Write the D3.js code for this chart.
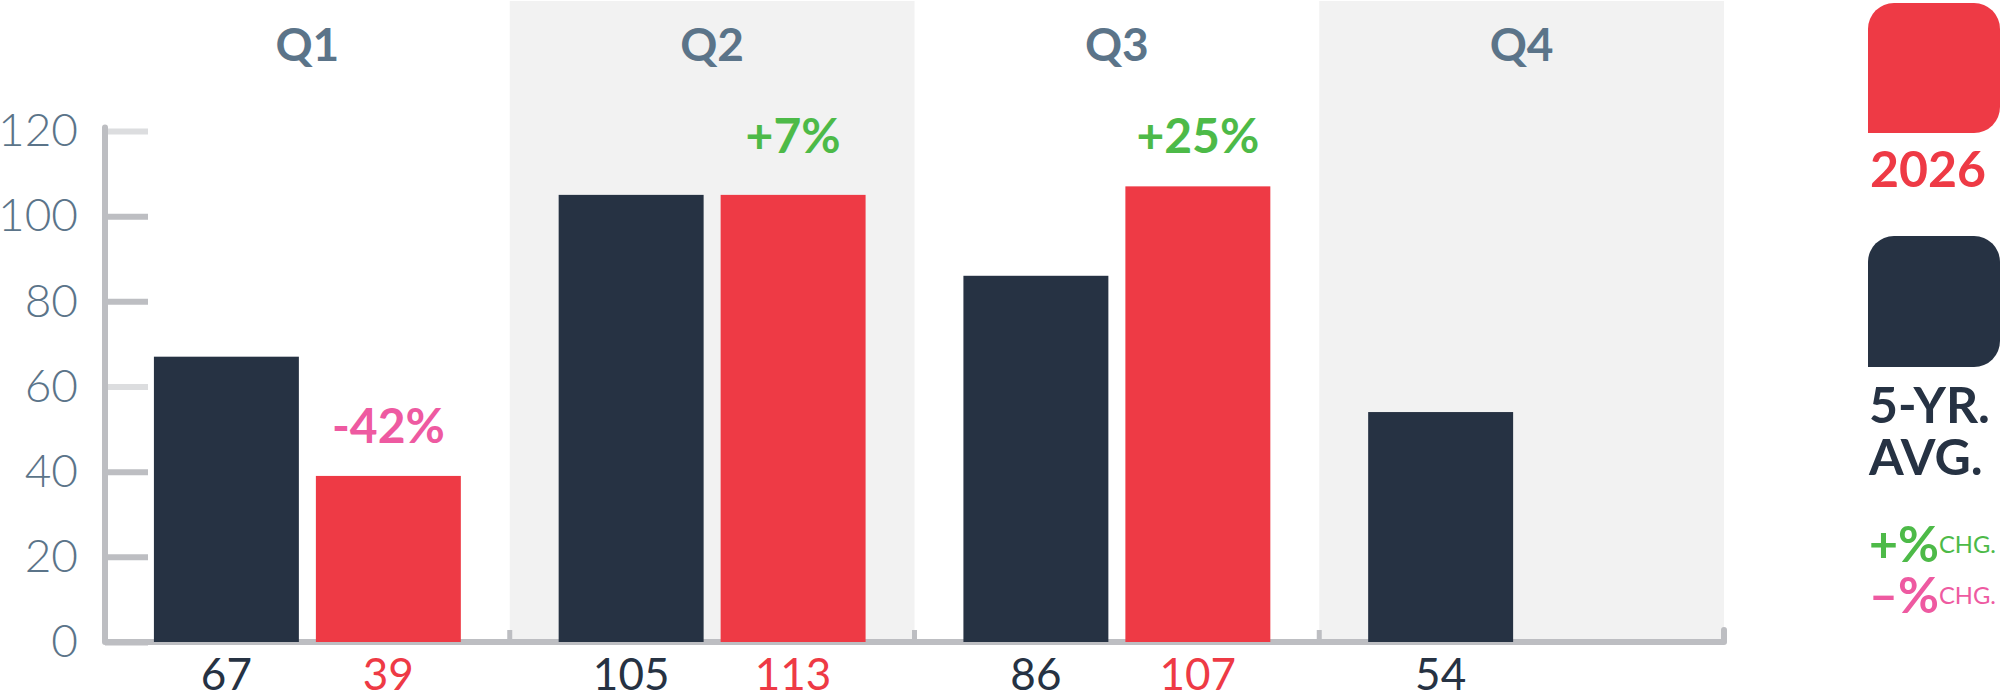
<!DOCTYPE html>
<html>
<head>
<meta charset="utf-8">
<script src="https://cdn.jsdelivr.net/npm/d3@7"></script>
<style>
  html, body { margin: 0; padding: 0; background: #fff; }
  svg { display: block; font-family: Lato, "Open Sans", sans-serif; }
</style>
</head>
<body>
<div id="chart"></div>
<script>
// values
var quarters = ['Q1', 'Q2', 'Q3', 'Q4'];
var series = ['avg', 'cur'];
var avgValues = [67, 105, 86, 54];
var curValues = [39, 105, 107, null];
var avgLabels = ['67', '105', '86', '54'];
var curLabels = ['39', '113', '107', ''];
var changeLabels = ['-42%', '+7%', '+25%', ''];
var yTicks = [0, 20, 40, 60, 80, 100, 120];

var navy = '#263243', red = '#ee3a45', slate = '#5b7489';
var green = '#4dba48', pink = '#ee5aa1', axisGray = '#bdbec2', lightGray = '#dcdddf';

var W = 2000, H = 693;
var svg = d3.select('#chart').append('svg')
  .attr('width', W)
  .attr('height', H);

var x = d3.scaleBand().domain(quarters).range([105, 1724]);
var xi = d3.scaleBand().domain(series).range([0, x.bandwidth()])
  .paddingInner(0.105).paddingOuter(0.302);
var y = d3.scaleLinear().domain([0, 120]).range([642, 131]);

// shaded quarter columns
svg.append('g').selectAll('rect.band')
  .data(quarters.filter(function(d, i) { return i % 2 === 1; }))
  .enter().append('rect')
  .attr('class', 'band')
  .attr('x', function(d) { return x(d); })
  .attr('y', 1)
  .attr('width', x.bandwidth())
  .attr('height', y(0) - 1)
  .attr('fill', '#f2f2f2');

// quarter titles
svg.append('g').selectAll('text.q')
  .data(quarters)
  .enter().append('text')
  .attr('x', function(d) { return x(d) + x.bandwidth() / 2; })
  .attr('y', 61)
  .attr('text-anchor', 'middle')
  .attr('font-size', 46)
  .attr('font-weight', 700)
  .attr('fill', slate)
  .text(function(d) { return d; });

// y axis ticks + labels
var yAxis = d3.axisLeft(y).tickValues(yTicks).tickSize(43).tickPadding(27);
var ya = svg.append('g').attr('transform', 'translate(148,0)').call(yAxis);
ya.select('.domain').remove();
ya.selectAll('.tick line')
  .attr('stroke', function(d) { return (d === 60 || d === 120) ? lightGray : axisGray; })
  .attr('stroke-width', 6);
ya.selectAll('.tick text')
  .attr('font-family', 'Lato, sans-serif')
  .attr('font-size', 46)
  .attr('font-weight', 300)
  .attr('fill', slate);

// axis frame
var x0 = x.range()[0], x1 = x.range()[1];
svg.append('path')
  .attr('d', 'M' + x0 + ',' + y(120.8) + 'V' + y(0) + 'H' + x1 + 'V' + (y(0) - 12))
  .attr('fill', 'none')
  .attr('stroke', axisGray)
  .attr('stroke-width', 6)
  .attr('stroke-linecap', 'round')
  .attr('stroke-linejoin', 'round');
svg.append('g').selectAll('line.sep')
  .data(quarters.slice(1))
  .enter().append('line')
  .attr('x1', function(d) { return x(d); })
  .attr('x2', function(d) { return x(d); })
  .attr('y1', y(0))
  .attr('y2', y(0) - 12)
  .attr('stroke', axisGray)
  .attr('stroke-width', 5);

// bars
var barLayer = svg.append('g');
barLayer.selectAll('rect.avg')
  .data(avgValues)
  .enter().append('rect')
  .attr('class', 'avg')
  .attr('x', function(d, i) { return x(quarters[i]) + xi('avg'); })
  .attr('y', function(d) { return y(d); })
  .attr('width', xi.bandwidth())
  .attr('height', function(d) { return y(0) - y(d); })
  .attr('fill', navy);
barLayer.selectAll('rect.cur')
  .data(curValues.filter(function(d) { return d !== null; }))
  .enter().append('rect')
  .attr('class', 'cur')
  .attr('x', function(d, i) { return x(quarters[i]) + xi('cur'); })
  .attr('y', function(d) { return y(d); })
  .attr('width', xi.bandwidth())
  .attr('height', function(d) { return y(0) - y(d); })
  .attr('fill', red);

// value labels under the axis
var labelLayer = svg.append('g')
  .attr('font-size', 44)
  .attr('font-weight', 400)
  .attr('text-anchor', 'middle');
labelLayer.selectAll('text.avgl')
  .data(avgLabels)
  .enter().append('text')
  .attr('x', function(d, i) { return x(quarters[i]) + xi('avg') + xi.bandwidth() / 2; })
  .attr('y', 690)
  .attr('fill', navy)
  .text(function(d) { return d; });
labelLayer.selectAll('text.curl')
  .data(curLabels)
  .enter().append('text')
  .attr('x', function(d, i) { return x(quarters[i]) + xi('cur') + xi.bandwidth() / 2; })
  .attr('y', 690)
  .attr('fill', red)
  .text(function(d) { return d; });

// % change above the current bars; the positive ones share one row
var isUp = function(d) { return d.charAt(0) === '+'; };
var upTop = d3.max(curValues.filter(function(v, i) { return isUp(changeLabels[i]); }));
svg.append('g').selectAll('text.chg')
  .data(changeLabels)
  .enter().append('text')
  .attr('x', function(d, i) { return x(quarters[i]) + xi('cur') + xi.bandwidth() / 2; })
  .attr('y', function(d, i) {
    if (curValues[i] === null) return 0;
    return y(isUp(d) ? upTop : curValues[i]) - 33;
  })
  .attr('text-anchor', 'middle')
  .attr('font-size', 48)
  .attr('font-weight', 700)
  .attr('fill', function(d) { return isUp(d) ? green : pink; })
  .text(function(d) { return d; });

// legend
function tab(x, y, w, h, r) {
  return 'M' + x + ',' + (y + r) +
    'A' + r + ',' + r + ' 0 0 1 ' + (x + r) + ',' + y +
    'H' + (x + w - r) +
    'A' + r + ',' + r + ' 0 0 1 ' + (x + w) + ',' + (y + r) +
    'V' + (y + h - r) +
    'A' + r + ',' + r + ' 0 0 1 ' + (x + w - r) + ',' + (y + h) +
    'H' + x + 'Z';
}
var lg = svg.append('g');
lg.append('path').attr('d', tab(1868, 3, 132, 130, 26)).attr('fill', red);
lg.append('text').attr('x', 1870).attr('y', 187)
  .attr('font-size', 50).attr('font-weight', 700).attr('fill', red).text('2026');
lg.append('path').attr('d', tab(1868, 236, 132, 131, 26)).attr('fill', navy);
lg.append('text').attr('x', 1869).attr('y', 423)
  .attr('font-size', 50).attr('font-weight', 700).attr('fill', navy).text('5-YR.');
lg.append('text').attr('x', 1869).attr('y', 475)
  .attr('font-size', 50).attr('font-weight', 700).attr('fill', navy).text('AVG.');

var chg = [{ sign: '+', color: green, y: 562 }, { sign: '\u2013', color: pink, y: 613 }];
var ct = lg.selectAll('text.key').data(chg).enter().append('text')
  .attr('x', 1869)
  .attr('y', function(d) { return d.y; })
  .attr('fill', function(d) { return d.color; });
ct.append('tspan').attr('font-size', 50).attr('font-weight', 700)
  .text(function(d) { return d.sign + '%'; });
ct.append('tspan').attr('font-size', 24).attr('font-weight', 400).attr('dy', -9)
  .attr('textLength', 57).attr('lengthAdjust', 'spacingAndGlyphs')
  .text('CHG.');
</script>
</body>
</html>
